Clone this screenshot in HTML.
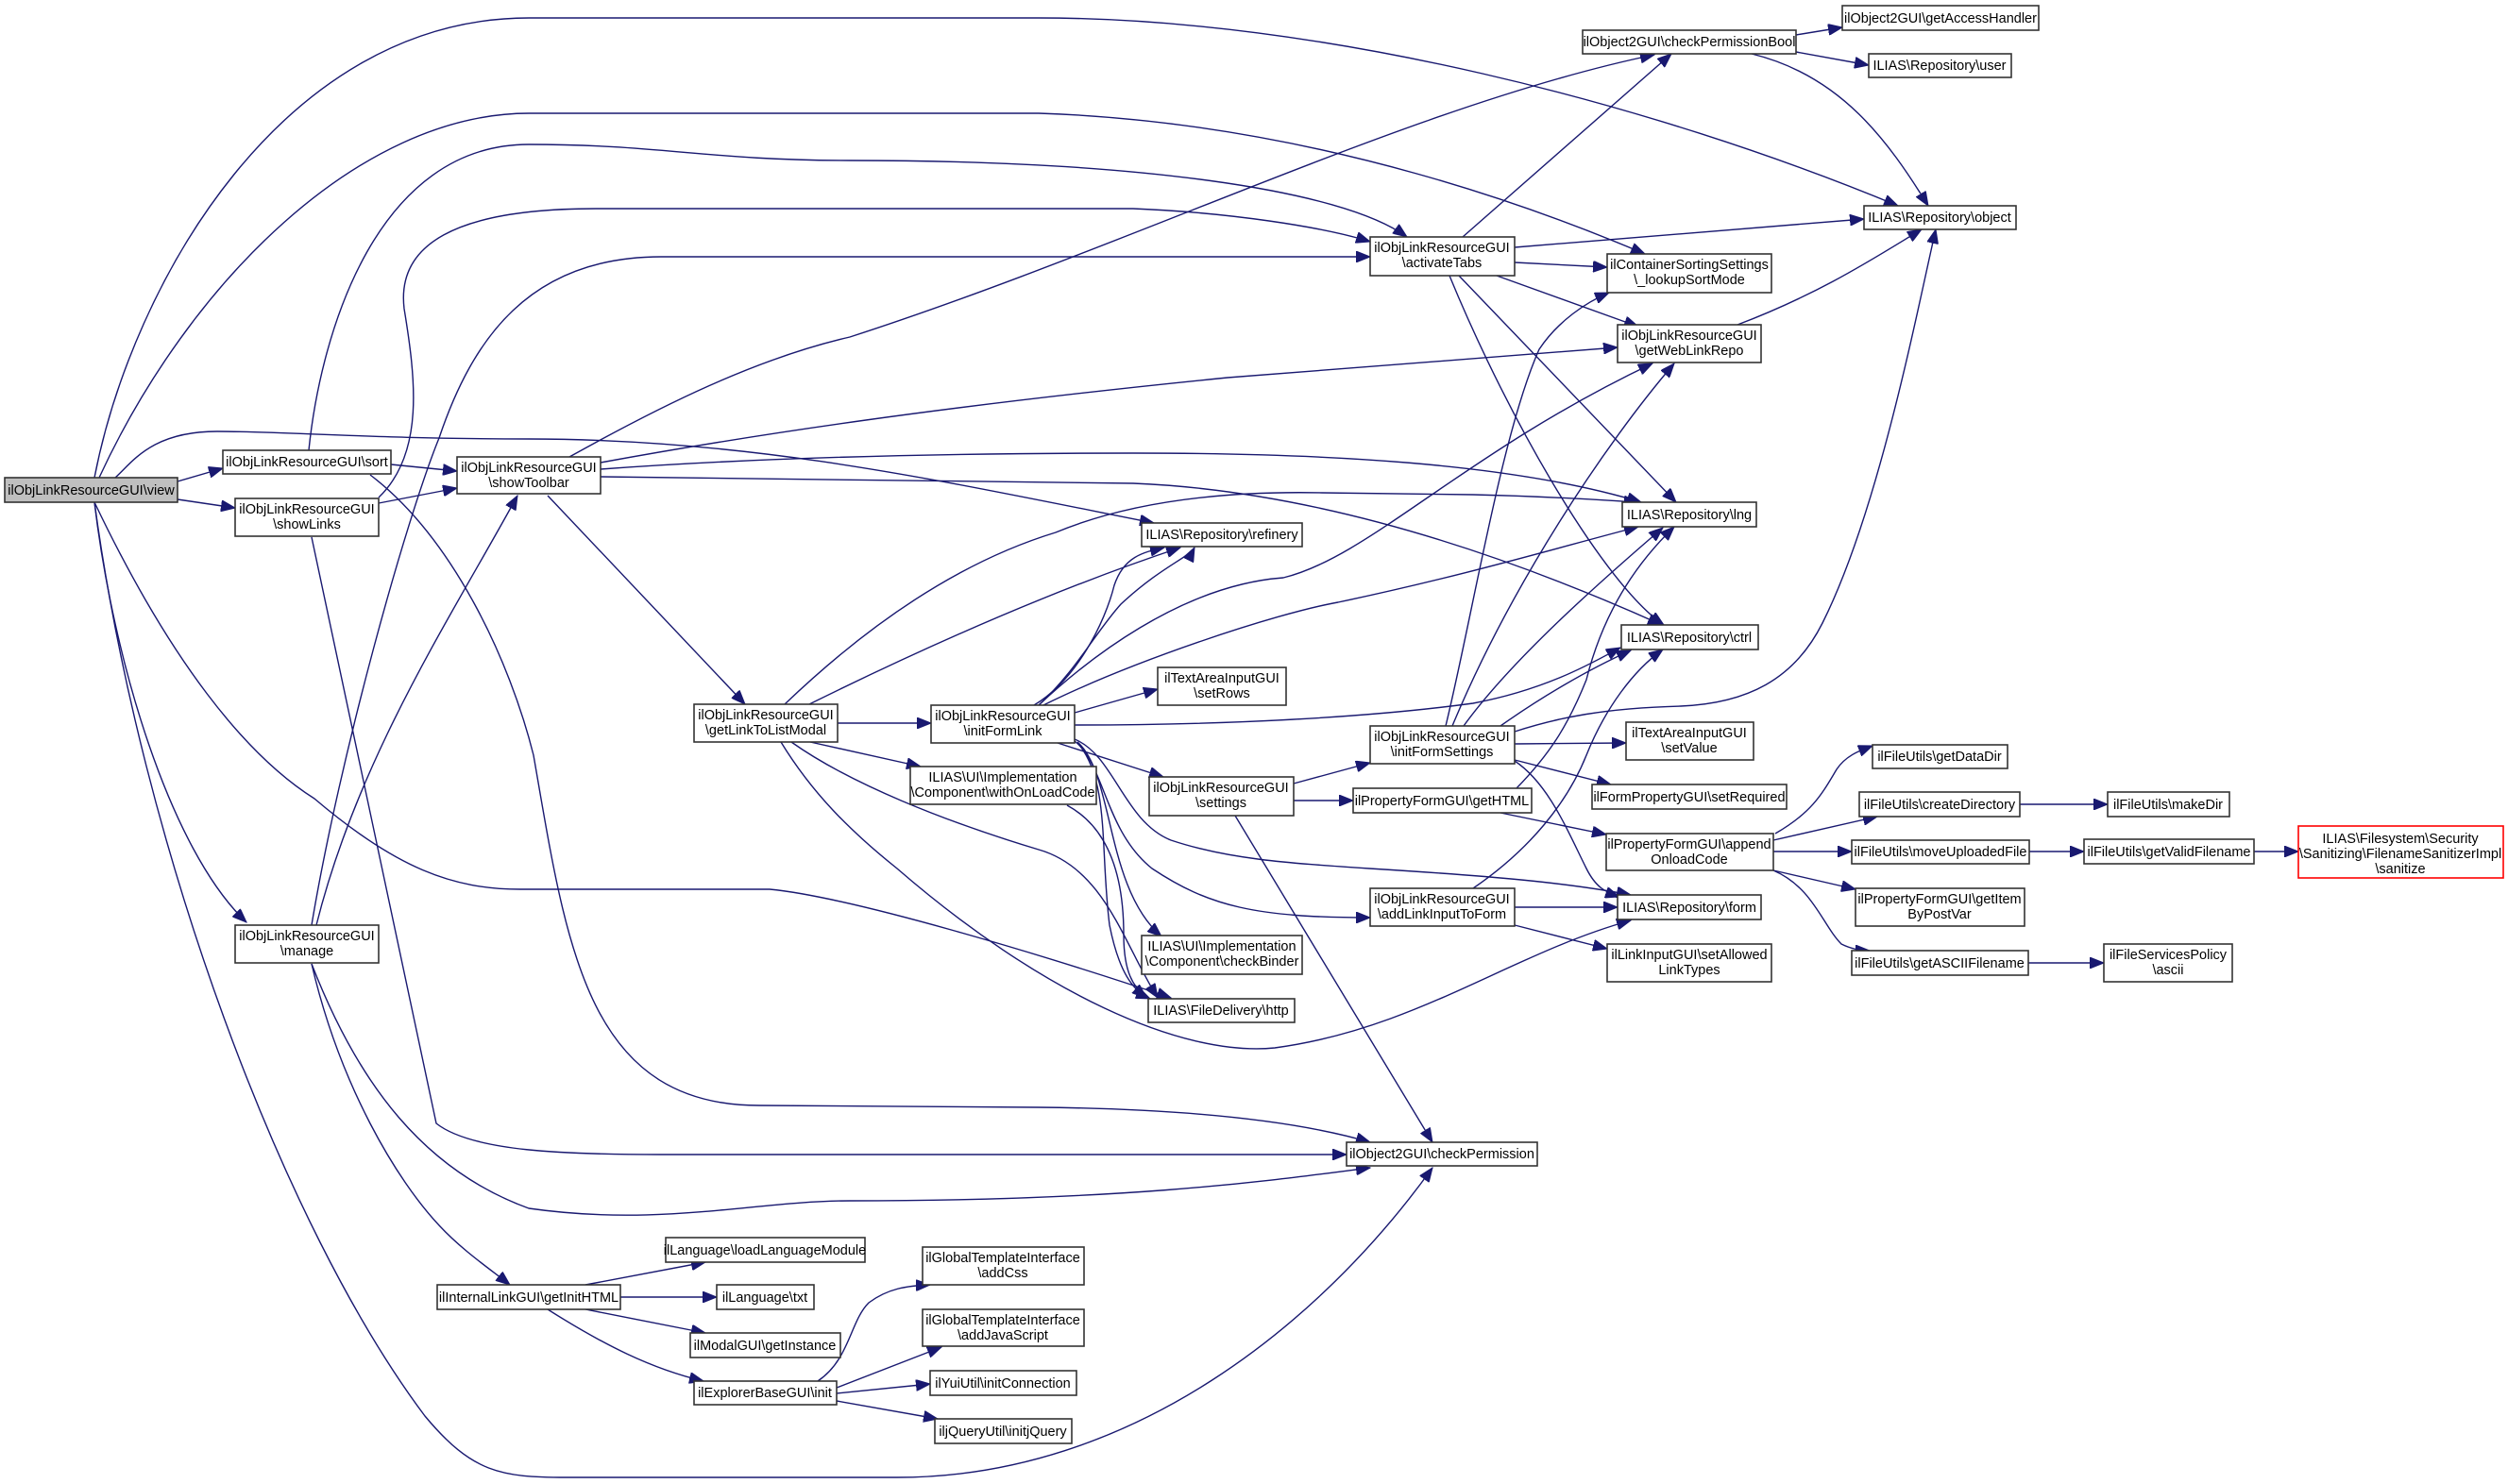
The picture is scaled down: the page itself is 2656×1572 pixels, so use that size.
<!DOCTYPE html>
<html><head><meta charset="utf-8"><style>
html,body{margin:0;padding:0;background:#fff}
svg{display:block}
text{font-family:"Liberation Sans",Arial,sans-serif;font-size:14.5px;fill:#000}
.n rect{fill:#fff;stroke:#333;stroke-width:1.6}
.e{fill:none;stroke:#191970;stroke-width:1.4}
</style></head><body>
<svg width="2656" height="1572" viewBox="0 0 2656 1572" xmlns="http://www.w3.org/2000/svg">
<defs><marker id="a" markerUnits="userSpaceOnUse" markerWidth="16" markerHeight="12" refX="15" refY="6" orient="auto"><path d="M0,0 L15,6 L0,12 z" fill="#191970" stroke="#191970"/></marker></defs>
<g marker-end="url(#a)">
<path class="e" d="M188,510 L236,496"/>
<path class="e" d="M188,529 L249,538"/>
<path class="e" d="M100,506 C140,300 300,19 560,19 L1100,19 C1400,19 1750,110 2010,218"/>
<path class="e" d="M105,506 C200,300 380,120 560,120 L1100,120 C1400,130 1650,230 1742,269"/>
<path class="e" d="M122,506 C140,490 160,457 230,457 C300,457 400,465 560,465 C800,465 1000,510 1222,554"/>
<path class="e" d="M100,532 C180,700 260,800 333,846 C420,920 480,942 551,942 L815,942 C900,950 1100,1010 1240,1057"/>
<path class="e" d="M100,532 C120,700 180,900 261,977"/>
<path class="e" d="M100,532 C150,900 300,1300 450,1500 C500,1560 530,1565 600,1565 L950,1565 C1200,1565 1400,1400 1517,1237"/>
<path class="e" d="M327,477 C340,350 400,153 560,153 C700,153 750,170 900,170 C1200,170 1420,200 1490,251"/>
<path class="e" d="M414,492 L484,499"/>
<path class="e" d="M392,503 C480,570 540,700 565,800 C600,1000 620,1171 804,1171 L1100,1173 C1300,1175 1400,1195 1451,1210"/>
<path class="e" d="M401,527 C450,480 440,400 428,327 C420,260 480,221 631,221 L1200,221 C1300,225 1400,240 1451,256"/>
<path class="e" d="M401,533 L484,517"/>
<path class="e" d="M330,569 L462,1190 C500,1220 600,1223 700,1223 L1426,1223"/>
<path class="e" d="M603,484 C700,430 800,380 900,357 C1200,260 1500,110 1752,58"/>
<path class="e" d="M636,490 C800,460 1000,430 1300,400 L1713,368"/>
<path class="e" d="M636,497 C800,485 1000,480 1200,480 C1400,480 1600,490 1738,532"/>
<path class="e" d="M636,505 C800,508 1000,510 1200,512 C1400,520 1600,590 1760,662"/>
<path class="e" d="M580,525 L789,746"/>
<path class="e" d="M335,980 C380,800 480,650 548,525"/>
<path class="e" d="M330,980 C360,800 430,550 465,464 C500,360 560,272 700,272 L1451,272"/>
<path class="e" d="M330,1021 C380,1150 450,1240 560,1280 C700,1300 800,1272 900,1272 C1200,1272 1350,1250 1451,1237"/>
<path class="e" d="M330,1021 C360,1150 420,1250 465,1298 C490,1325 520,1345 540,1361"/>
<path class="e" d="M887,766 L986,766"/>
<path class="e" d="M858,786 L975,812"/>
<path class="e" d="M831,746 C900,680 1000,600 1118,564 C1200,530 1300,520 1400,522 L1560,524 C1650,526 1700,530 1735,532"/>
<path class="e" d="M857,746 C950,700 1100,630 1250,580"/>
<path class="e" d="M827,786 C860,840 900,880 950,920 C1100,1050 1250,1120 1350,1110 C1500,1090 1600,1010 1727,975"/>
<path class="e" d="M838,786 C900,830 1000,870 1100,900 C1170,920 1190,1000 1226,1057"/>
<path class="e" d="M1130,853 C1180,880 1190,940 1190,990 C1190,1030 1200,1045 1214,1057"/>
<path class="e" d="M1095,747 C1140,720 1170,660 1180,620 C1190,590 1210,585 1233,580"/>
<path class="e" d="M1100,747 C1140,710 1160,670 1187,640 C1230,600 1260,590 1265,580"/>
<path class="e" d="M1100,747 C1150,700 1250,620 1359,612 C1450,590 1550,480 1750,385"/>
<path class="e" d="M1105,747 C1200,700 1350,650 1417,638 C1550,610 1650,580 1735,558"/>
<path class="e" d="M1138,768 C1300,768 1450,760 1560,745 C1640,730 1690,700 1716,686"/>
<path class="e" d="M1138,755 L1226,730"/>
<path class="e" d="M1120,787 L1232,823"/>
<path class="e" d="M1138,783 C1180,800 1190,870 1240,890 C1300,910 1360,914 1450,920 C1580,928 1660,935 1727,948"/>
<path class="e" d="M1138,785 C1170,810 1170,880 1220,920 C1280,960 1330,972 1451,972"/>
<path class="e" d="M1141,786 C1180,820 1170,940 1230,992"/>
<path class="e" d="M1143,789 C1175,830 1165,900 1175,980 C1185,1030 1200,1050 1218,1058"/>
<path class="e" d="M1370,830 L1451,808"/>
<path class="e" d="M1370,848 L1433,848"/>
<path class="e" d="M1308,864 L1517,1210"/>
<path class="e" d="M1531,769 C1560,650 1590,460 1630,370 C1650,340 1680,320 1704,310"/>
<path class="e" d="M1538,769 C1600,620 1700,470 1773,385"/>
<path class="e" d="M1550,769 C1600,700 1690,620 1761,559"/>
<path class="e" d="M1589,769 C1630,740 1680,710 1727,689"/>
<path class="e" d="M1604,775 C1650,760 1700,750 1780,748 C1850,745 1900,720 1930,660 C1990,540 2030,330 2050,243"/>
<path class="e" d="M1604,788 L1722,787"/>
<path class="e" d="M1604,805 L1706,831"/>
<path class="e" d="M1604,806 C1640,830 1660,880 1680,920 C1690,940 1700,945 1715,950"/>
<path class="e" d="M1606,835 C1640,800 1660,770 1680,720 C1700,640 1740,590 1773,558"/>
<path class="e" d="M1589,861 L1701,884"/>
<path class="e" d="M1560,941 C1620,900 1660,850 1680,800 C1700,750 1730,710 1761,688"/>
<path class="e" d="M1604,961 L1713,961"/>
<path class="e" d="M1604,980 L1702,1005"/>
<path class="e" d="M1549,251 L1770,57"/>
<path class="e" d="M1604,262 L1974,232"/>
<path class="e" d="M1604,278 L1702,283"/>
<path class="e" d="M1585,292 L1735,346"/>
<path class="e" d="M1545,292 L1775,532"/>
<path class="e" d="M1535,292 C1600,450 1700,620 1762,662"/>
<path class="e" d="M1902,37 L1951,29"/>
<path class="e" d="M1902,55 L1979,69"/>
<path class="e" d="M1855,57 C1950,80 2000,150 2042,218"/>
<path class="e" d="M1840,344 C1930,310 1990,270 2035,243"/>
<path class="e" d="M620,1361 L747,1337"/>
<path class="e" d="M657,1374 L759,1374"/>
<path class="e" d="M620,1387 L747,1412"/>
<path class="e" d="M580,1387 C640,1425 690,1450 745,1463"/>
<path class="e" d="M866,1463 C900,1440 900,1400 920,1380 C940,1365 960,1362 985,1361"/>
<path class="e" d="M886,1470 L997,1427"/>
<path class="e" d="M886,1476 L985,1466"/>
<path class="e" d="M886,1484 L993,1503"/>
<path class="e" d="M1880,883 C1920,860 1930,840 1945,815 C1955,800 1970,795 1983,790"/>
<path class="e" d="M1878,890 L1988,865"/>
<path class="e" d="M1878,902 L1961,902"/>
<path class="e" d="M1878,922 L1965,942"/>
<path class="e" d="M1878,922 C1920,940 1930,980 1950,1000 C1960,1005 1970,1007 1980,1007"/>
<path class="e" d="M2139,852 L2232,852"/>
<path class="e" d="M2149,902 L2207,902"/>
<path class="e" d="M2387,902 L2434,902"/>
<path class="e" d="M2148,1020 L2228,1020"/>
</g>
<g class="n">
<rect x="5" y="506" width="183" height="26" style="fill:#bfbfbf"/><text x="96.5" y="524" text-anchor="middle">ilObjLinkResourceGUI\view</text>
<rect x="236" y="477" width="178" height="25"/><text x="325" y="494" text-anchor="middle">ilObjLinkResourceGUI\sort</text>
<rect x="249" y="528" width="152" height="40"/><text x="325" y="544" text-anchor="middle">ilObjLinkResourceGUI</text><text x="325" y="560" text-anchor="middle">\showLinks</text>
<rect x="484" y="484" width="152" height="39"/><text x="560" y="500" text-anchor="middle">ilObjLinkResourceGUI</text><text x="560" y="516" text-anchor="middle">\showToolbar</text>
<rect x="249" y="980" width="152" height="40"/><text x="325" y="996" text-anchor="middle">ilObjLinkResourceGUI</text><text x="325" y="1012" text-anchor="middle">\manage</text>
<rect x="735" y="746" width="152" height="40"/><text x="811" y="762" text-anchor="middle">ilObjLinkResourceGUI</text><text x="811" y="778" text-anchor="middle">\getLinkToListModal</text>
<rect x="986" y="747" width="152" height="40"/><text x="1062" y="763" text-anchor="middle">ilObjLinkResourceGUI</text><text x="1062" y="779" text-anchor="middle">\initFormLink</text>
<rect x="964" y="812" width="197" height="40"/><text x="1062" y="828" text-anchor="middle">ILIAS\UI\Implementation</text><text x="1062" y="844" text-anchor="middle">\Component\withOnLoadCode</text>
<rect x="1217" y="823" width="153" height="41"/><text x="1293" y="839" text-anchor="middle">ilObjLinkResourceGUI</text><text x="1293" y="855" text-anchor="middle">\settings</text>
<rect x="1209" y="554" width="170" height="25"/><text x="1294" y="571" text-anchor="middle">ILIAS\Repository\refinery</text>
<rect x="1226" y="707" width="136" height="40"/><text x="1294" y="723" text-anchor="middle">ilTextAreaInputGUI</text><text x="1294" y="739" text-anchor="middle">\setRows</text>
<rect x="1209" y="991" width="170" height="41"/><text x="1294" y="1007" text-anchor="middle">ILIAS\UI\Implementation</text><text x="1294" y="1023" text-anchor="middle">\Component\checkBinder</text>
<rect x="1216" y="1058" width="155" height="25"/><text x="1293" y="1075" text-anchor="middle">ILIAS\FileDelivery\http</text>
<rect x="1426" y="1210" width="202" height="25"/><text x="1527" y="1227" text-anchor="middle">ilObject2GUI\checkPermission</text>
<rect x="1451" y="251" width="153" height="41"/><text x="1527" y="267" text-anchor="middle">ilObjLinkResourceGUI</text><text x="1527" y="283" text-anchor="middle">\activateTabs</text>
<rect x="1676" y="32" width="226" height="25"/><text x="1789" y="49" text-anchor="middle">ilObject2GUI\checkPermissionBool</text>
<rect x="1451" y="769" width="153" height="40"/><text x="1527" y="785" text-anchor="middle">ilObjLinkResourceGUI</text><text x="1527" y="801" text-anchor="middle">\initFormSettings</text>
<rect x="1433" y="835" width="189" height="26"/><text x="1527" y="853" text-anchor="middle">ilPropertyFormGUI\getHTML</text>
<rect x="1451" y="941" width="153" height="40"/><text x="1527" y="957" text-anchor="middle">ilObjLinkResourceGUI</text><text x="1527" y="973" text-anchor="middle">\addLinkInputToForm</text>
<rect x="1702" y="269" width="174" height="41"/><text x="1789" y="285" text-anchor="middle">ilContainerSortingSettings</text><text x="1789" y="301" text-anchor="middle">\_lookupSortMode</text>
<rect x="1713" y="344" width="152" height="40"/><text x="1789" y="360" text-anchor="middle">ilObjLinkResourceGUI</text><text x="1789" y="376" text-anchor="middle">\getWebLinkRepo</text>
<rect x="1718" y="532" width="142" height="26"/><text x="1789" y="550" text-anchor="middle">ILIAS\Repository\lng</text>
<rect x="1717" y="662" width="145" height="26"/><text x="1789" y="680" text-anchor="middle">ILIAS\Repository\ctrl</text>
<rect x="1722" y="765" width="135" height="40"/><text x="1789" y="781" text-anchor="middle">ilTextAreaInputGUI</text><text x="1789" y="797" text-anchor="middle">\setValue</text>
<rect x="1686" y="831" width="206" height="26"/><text x="1789" y="849" text-anchor="middle">ilFormPropertyGUI\setRequired</text>
<rect x="1701" y="883" width="177" height="39"/><text x="1789" y="899" text-anchor="middle">ilPropertyFormGUI\append</text><text x="1789" y="915" text-anchor="middle">OnloadCode</text>
<rect x="1713" y="948" width="152" height="26"/><text x="1789" y="966" text-anchor="middle">ILIAS\Repository\form</text>
<rect x="1702" y="1000" width="174" height="40"/><text x="1789" y="1016" text-anchor="middle">ilLinkInputGUI\setAllowed</text><text x="1789" y="1032" text-anchor="middle">LinkTypes</text>
<rect x="1951" y="6" width="208" height="26"/><text x="2055" y="24" text-anchor="middle">ilObject2GUI\getAccessHandler</text>
<rect x="1979" y="57" width="151" height="25"/><text x="2054" y="74" text-anchor="middle">ILIAS\Repository\user</text>
<rect x="1974" y="218" width="161" height="25"/><text x="2054" y="235" text-anchor="middle">ILIAS\Repository\object</text>
<rect x="1983" y="789" width="143" height="25"/><text x="2054" y="806" text-anchor="middle">ilFileUtils\getDataDir</text>
<rect x="1969" y="839" width="170" height="26"/><text x="2054" y="857" text-anchor="middle">ilFileUtils\createDirectory</text>
<rect x="2232" y="839" width="129" height="26"/><text x="2296" y="857" text-anchor="middle">ilFileUtils\makeDir</text>
<rect x="1961" y="890" width="188" height="25"/><text x="2055" y="907" text-anchor="middle">ilFileUtils\moveUploadedFile</text>
<rect x="2207" y="889" width="180" height="26"/><text x="2297" y="907" text-anchor="middle">ilFileUtils\getValidFilename</text>
<rect x="2434" y="875" width="217" height="55" style="stroke:#ff0000"/><text x="2542" y="893" text-anchor="middle">ILIAS\Filesystem\Security</text><text x="2542" y="909" text-anchor="middle">\Sanitizing\FilenameSanitizerImpl</text><text x="2542" y="925" text-anchor="middle">\sanitize</text>
<rect x="1965" y="941" width="179" height="40"/><text x="2054" y="957" text-anchor="middle">ilPropertyFormGUI\getItem</text><text x="2054" y="973" text-anchor="middle">ByPostVar</text>
<rect x="1961" y="1007" width="187" height="26"/><text x="2054" y="1025" text-anchor="middle">ilFileUtils\getASCIIFilename</text>
<rect x="2228" y="1000" width="136" height="40"/><text x="2296" y="1016" text-anchor="middle">ilFileServicesPolicy</text><text x="2296" y="1032" text-anchor="middle">\ascii</text>
<rect x="463" y="1361" width="194" height="26"/><text x="560" y="1379" text-anchor="middle">ilInternalLinkGUI\getInitHTML</text>
<rect x="705" y="1311" width="211" height="26"/><text x="810" y="1329" text-anchor="middle">ilLanguage\loadLanguageModule</text>
<rect x="759" y="1361" width="103" height="26"/><text x="810" y="1379" text-anchor="middle">ilLanguage\txt</text>
<rect x="731" y="1412" width="159" height="26"/><text x="810" y="1430" text-anchor="middle">ilModalGUI\getInstance</text>
<rect x="735" y="1463" width="151" height="25"/><text x="810" y="1480" text-anchor="middle">ilExplorerBaseGUI\init</text>
<rect x="977" y="1321" width="171" height="40"/><text x="1062" y="1337" text-anchor="middle">ilGlobalTemplateInterface</text><text x="1062" y="1353" text-anchor="middle">\addCss</text>
<rect x="977" y="1387" width="171" height="39"/><text x="1062" y="1403" text-anchor="middle">ilGlobalTemplateInterface</text><text x="1062" y="1419" text-anchor="middle">\addJavaScript</text>
<rect x="985" y="1452" width="155" height="26"/><text x="1062" y="1470" text-anchor="middle">ilYuiUtil\initConnection</text>
<rect x="990" y="1503" width="145" height="26"/><text x="1062" y="1521" text-anchor="middle">iljQueryUtil\initjQuery</text>
</g>
</svg>
</body></html>
